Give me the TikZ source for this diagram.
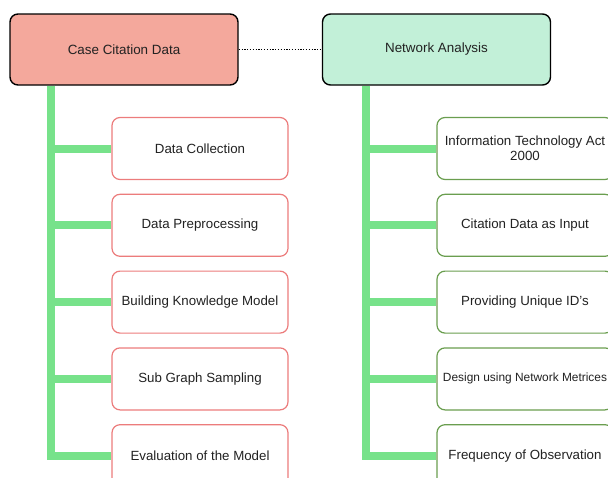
\documentclass[tikz,border=0pt]{standalone}
\usepackage{fontspec}
\setmainfont{Liberation Sans}
\usetikzlibrary{positioning}
\definecolor{headred}{HTML}{F4A89C}
\definecolor{headgreen}{HTML}{C2F0D8}
\definecolor{boxred}{HTML}{EC7C7C}
\definecolor{boxgreen}{HTML}{6A9E4F}
\definecolor{trunkgreen}{HTML}{77E28A}
\definecolor{textgray}{HTML}{222222}
\begin{document}
\begin{tikzpicture}[
  head/.style={rectangle, draw=black, line width=1.4pt, rounded corners=8pt, minimum width=228pt, minimum height=71pt, text=textgray, font=\fontsize{13.4}{15}\selectfont},
  item/.style={rectangle, draw, line width=1.2pt, rounded corners=8pt, fill=white, minimum width=176pt, minimum height=62pt, align=center, text=textgray, font=\fontsize{13.3}{15}\selectfont},
  leftitem/.style={item, draw=boxred},
  rightitem/.style={item, draw=boxgreen},
  trunk/.style={trunkgreen, line width=8pt},
  node distance=13.6pt
]
\clip (0,0) rectangle (608pt,-477pt);

% Headers
\node[head, fill=headred] (lhead) at (124pt,-49.5pt) {Case Citation Data};
\node[head, fill=headgreen] (rhead) at (436.5pt,-49.5pt) {Network Analysis};
\draw[line width=1pt, dash pattern=on 1.2pt off 1.6pt] (lhead) -- (rhead);

% Left column
\node[leftitem] (l1) at (200pt,-148.5pt) {Data Collection};
\node[leftitem, below=of l1] (l2) {Data Preprocessing};
\node[leftitem, below=of l2] (l3) {Building Knowledge Model};
\node[leftitem, below=of l3] (l4) {Sub Graph Sampling};
\node[leftitem, below=of l4] (l5) {Evaluation of the Model};

% Right column
\node[rightitem] (r1) at (525pt,-148.5pt) {Information Technology Act\\2000};
\node[rightitem, below=of r1] (r2) {Citation Data as Input};
\node[rightitem, below=of r2] (r3) {Providing Unique ID's};
\node[rightitem, below=of r3, font=\fontsize{11.9}{14}\selectfont] (r4) {Design using Network Metrices};
\node[rightitem, below=of r4] (r5) {Frequency of Observation};

% Trunks and branches
\coordinate (ltrunk) at (50.5pt,0);
\coordinate (rtrunk) at (366pt,0);
\draw[trunk] (lhead.south -| ltrunk) -- (ltrunk |- l5.west) -- (l5.west);
\draw[trunk] (rhead.south -| rtrunk) -- (rtrunk |- r5.west) -- (r5.west);
\foreach \i in {1,...,4} {
  \draw[trunk] (ltrunk |- l\i.west) -- (l\i.west);
  \draw[trunk] (rtrunk |- r\i.west) -- (r\i.west);
}

\end{tikzpicture}
\end{document}
